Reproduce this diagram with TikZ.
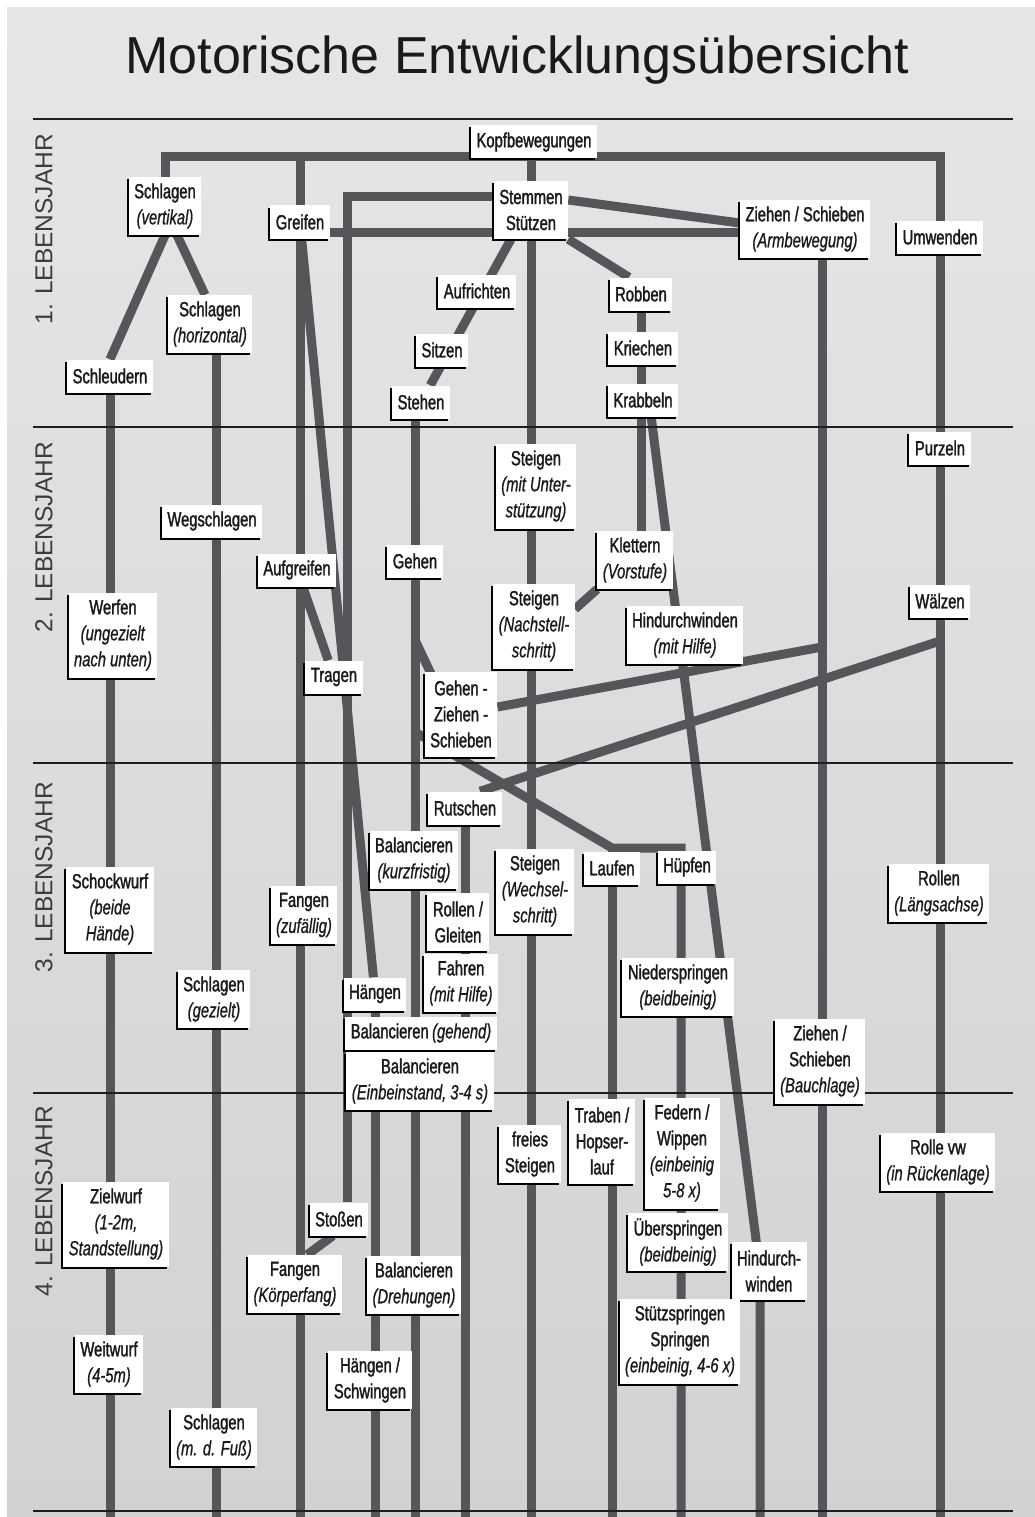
\documentclass[tikz,border=0pt]{standalone}
\usepackage{fontspec}
\setmainfont{Liberation Sans}[FakeStretch=0.72, UprightFeatures={FakeBold=1.6}, ItalicFeatures={FakeBold=0.8}]
\newfontfamily\titlefont{Liberation Sans}
\usetikzlibrary{calc, shadows}
\definecolor{linkgray}{HTML}{55565A}
\definecolor{rulecol}{HTML}{1E1E1E}
\definecolor{bgtop}{HTML}{E6E6E6}
\definecolor{bgbot}{HTML}{D2D2D2}
\definecolor{inkcol}{HTML}{1A1A1A}
\pgfdeclarelayer{paper}
\pgfdeclarelayer{links}
\pgfsetlayers{paper,links,main}

\begin{document}
\begin{tikzpicture}[x=1pt, y=-1pt,
		box/.style={fill=white, text=inkcol, align=center, inner xsep=5.5pt, inner ysep=0pt,
			font=\textsize, general shadow={fill=black, shadow xshift=-2pt, shadow yshift=-2pt}},
		box1/.style={box, minimum height=33pt},
		box2/.style={box, minimum height=58pt},
		box3/.style={box, minimum height=85pt},
		box4/.style={box, minimum height=111pt},
		link/.style={draw=linkgray, line width=9pt},
		rule/.style={draw=rulecol, line width=2.8pt},
		year/.style={rotate=90, anchor=east, inner sep=0pt, text=inkcol!85, font=\yeartext}]
		\def\textsize{\fontsize{20.5}{26}\selectfont}
		\def\yeartext{\titlefont\fontsize{24.5}{28}\selectfont}
		\def\rules{119,427,763,1093,1511}
		
		\useasboundingbox (0,0) rectangle (1035,1517);
		\begin{pgfonlayer}{paper}
			\fill[white] (0,0) rectangle (1035,1517);
			\shade[top color=bgtop, bottom color=bgbot] (7,8) rectangle (1035,1517);
		\end{pgfonlayer}
		
		\node[font=\titlefont\fontsize{52}{60}\selectfont, text=inkcol, anchor=base] (titel) at (517,74) {Motorische Entwicklungsübersicht};
		% horizontal lines
		\foreach \y in \rules {
			\draw[rule] (33,\y) -- (1013,\y);
		}
		% draw year labels
		\foreach \nr/\y in {1/134, 2/442, 3/782, 4/1106} {
			\node[year] (jahr\nr) at (44,\y) {\nr. LEBENSJAHR};
		}
		
		% 1. Lebensjahr
		\node[box1] (kopf) at (534,142) {Kopfbewegungen};
		\node[box2] (schlagV) at (165,206) {Schlagen\\\textit{(vertikal)}};
		\node[box1] (greifen) at (300,222) {Greifen};
		\node[box2] (stemmen) at (531,210) {Stemmen\\Stützen};
		\node[box2] (ziehenA) at (805,229) {Ziehen / Schieben\\\textit{(Armbewegung)}};
		\node[box1] (umwenden) at (940,237) {Umwenden};
		\node[box2] (schlagH) at (210,324) {Schlagen\\\textit{(horizontal)}};
		\node[box1] (aufrichten) at (477,291) {Aufrichten};
		\node[box1] (robben) at (641,294) {Robben};
		\node[box1] (kriechen) at (643,348) {Kriechen};
		\node[box1] (sitzen) at (442,350) {Sitzen};
		\node[box1] (schleudern) at (110,376) {Schleudern};
		\node[box1] (krabbeln) at (643,400) {Krabbeln};
		\node[box1] (stehen) at (421,402) {Stehen};
		
		% 2. Lebensjahr
		\node[box1] (purzeln) at (940,448) {Purzeln};
		\node[box3] (steigenU) at (536,486) {Steigen\\\textit{(mit Unter-}\\\textit{stützung)}};
		\node[box1] (wegschlagen) at (212,521) {Wegschlagen};
		\node[box2] (klettern) at (635,560) {Klettern\\\textit{(Vorstufe)}};
		\node[box1] (gehen) at (415,561) {Gehen};
		\node[box1] (aufgreifen) at (297,570) {Aufgreifen};
		\node[box1] (waelzen) at (940,601) {Wälzen};
		\node[box3] (werfen) at (113,635) {Werfen\\\textit{(ungezielt}\\\textit{nach unten)}};
		\node[box3] (steigenN) at (534,626) {Steigen\\\textit{(Nachstell-}\\\textit{schritt)}};
		\node[box2] (hindurchH) at (685,635) {Hindurchwinden\\\textit{(mit Hilfe)}};
		\node[box1] (tragen) at (334,677) {Tragen};
		\node[box3] (gzs) at (461,714) {Gehen -\\Ziehen -\\Schieben};
		
		% 3. Lebensjahr
		\node[box1] (rutschen) at (465,808) {Rutschen};
		\node[box2] (balK) at (414,860) {Balancieren\\\textit{(kurzfristig)}};
		\node[box1] (laufen) at (612,868) {Laufen};
		\node[box1] (huepfen) at (687,867) {Hüpfen};
		\node[box3] (steigenW) at (535,891) {Steigen\\\textit{(Wechsel-}\\\textit{schritt)}};
		\node[box2] (rollenL) at (939,893) {Rollen\\\textit{(Längsachse)}};
		\node[box3] (schockwurf) at (110,909) {Schockwurf\\\textit{(beide}\\\textit{Hände)}};
		\node[box2] (fangenZ) at (304,915) {Fangen\\\textit{(zufällig)}};
		\node[box2] (rollenG) at (458,922) {Rollen /\\Gleiten};
		\node[box2] (fahren) at (461,983) {Fahren\\\textit{(mit Hilfe)}};
		\node[box2] (niederspr) at (678,987) {Niederspringen\\\textit{(beidbeinig)}};
		\node[box1] (haengen) at (375,994) {Hängen};
		\node[box2] (schlagG) at (214,999) {Schlagen\\\textit{(gezielt)}};
		\node[box1] (balG) at (421,1033) {Balancieren\,\textit{(gehend)}};
		\node[box3] (ziehenB) at (820,1061) {Ziehen /\\Schieben\\\textit{(Bauchlage)}};
		\node[box2] (balE) at (420,1081) {Balancieren\\\textit{(Einbeinstand, 3-4 s)}};
		
		% 4. Lebensjahr
		\node[box3] (trabenH) at (602,1141) {Traben /\\Hopser-\\lauf};
		\node[box4] (federn) at (682,1153) {Federn /\\Wippen\\\textit{(einbeinig}\\\textit{5-8 x)}};
		\node[box2] (freiesSt) at (530,1154) {freies\\Steigen};
		\node[box2] (rolleVw) at (938,1162) {Rolle vw\\\textit{(in Rückenlage)}};
		\node[box1] (stossen) at (339,1219) {Stoßen};
		\node[box3] (zielwurf) at (116,1224) {Zielwurf\\\textit{(1-2m,}\\\textit{Standstellung)}};
		\node[box2] (ueberspr) at (678,1242) {Überspringen\\\textit{(beidbeinig)}};
		\node[box2] (hindurch) at (769,1271) {Hindurch-\\winden};
		\node[box2] (fangenK) at (295,1284) {Fangen\\\textit{(Körperfang)}};
		\node[box2] (balD) at (414,1285) {Balancieren\\\textit{(Drehungen)}};
		\node[box3] (stuetz) at (680,1341) {Stützspringen\\Springen\\\textit{(einbeinig, 4-6 x)}};
		\node[box2] (weitwurf) at (109,1364) {Weitwurf\\\textit{(4-5m)}};
		\node[box2] (haengenS) at (370,1380) {Hängen /\\Schwingen};
		\node[box2] (schlagF) at (214,1437) {Schlagen\\\textit{(m. d. Fuß)}};
		
		% helper points
		\coordinate (bot) at (0,1517);
		\coordinate (kopfbar) at ([yshift=2pt]kopf.south);
		\coordinate (gbar) at ([yshift=-10pt]greifen.center);
		\coordinate (scol) at ([xshift=6pt]schlagH.center);
		\coordinate (zcol) at ([xshift=17pt]ziehenA.center);
		\coordinate (hcol) at ([xshift=-9pt]hindurch.center);
		\coordinate (lbar) at ([yshift=20pt]laufen.center);
		\coordinate (pcol) at ([xshift=-6pt]huepfen.center);
		
		% draw connectors
		\begin{pgfonlayer}{links}
			\draw[link] (schlagV) |- (umwenden |- kopfbar) -- (umwenden |- bot);
			\draw[link] (greifen |- kopfbar) -- (greifen |- bot);
			\draw[link] (stemmen |- kopfbar) -- (stemmen |- bot);
			\draw[link] ([yshift=13pt]stemmen.center) -| ([xshift=8pt]stossen.north);
			\draw[link] (gbar) -- (gbar -| ziehenA.center);
			\draw[link] ([yshift=10pt]stemmen.east) -- ([yshift=6pt]ziehenA.west);
			\draw[link] (stemmen.south east) -- ([xshift=-12pt]robben.north);
			\draw[link] ([xshift=-20pt]stemmen.south) -- (stehen);
			\draw[link] (robben) -- (robben |- klettern.north);
			\draw[link] ([xshift=6pt]krabbeln.center) -- (hcol) -- (hcol |- bot);
			\draw[link] (klettern.south west) -- ([yshift=17pt]steigenN.east);
			% Schlagen / Werfen
			\draw[link] (schlagV.south) -- (schleudern.north);
			\draw[link] ([xshift=12pt]schlagV.south) -- ([xshift=-5pt]schlagH.north);
			\draw[link] (schleudern) -- (schleudern |- bot);
			\draw[link] (scol) -- (scol |- bot);
			% Greifen
			\draw[link] (greifen) -- (haengen);
			\draw[link] (haengen) -- (haengen |- bot);
			\draw[link] (aufgreifen) -- (tragen);
			\draw[link] ([xshift=-6pt]stossen.south) -- ([xshift=12pt]fangenK.north);
			% Gehen
			\draw[link] (stehen -| gehen) -- (gehen |- bot);
			\draw[link] (gehen |- 0,640) -- ([xshift=-11pt]gzs.center);
			\draw[link] (gehen |- 0,732) -- (lbar) -| (pcol) -- (pcol |- bot);
			\draw[link] (lbar) -- (lbar |- bot);
			% Ziehen / Waelzen
			\draw[link] (zcol) -- (zcol |- bot);
			\draw[link] (zcol |- 0,647) -- ([yshift=7pt]gzs.east);
			\draw[link] (umwenden |- 0,641) -- ([xshift=15pt]rutschen.north);
			\draw[link] (rutschen) -- (rutschen |- bot);
		\end{pgfonlayer}
\end{tikzpicture}
\end{document}
